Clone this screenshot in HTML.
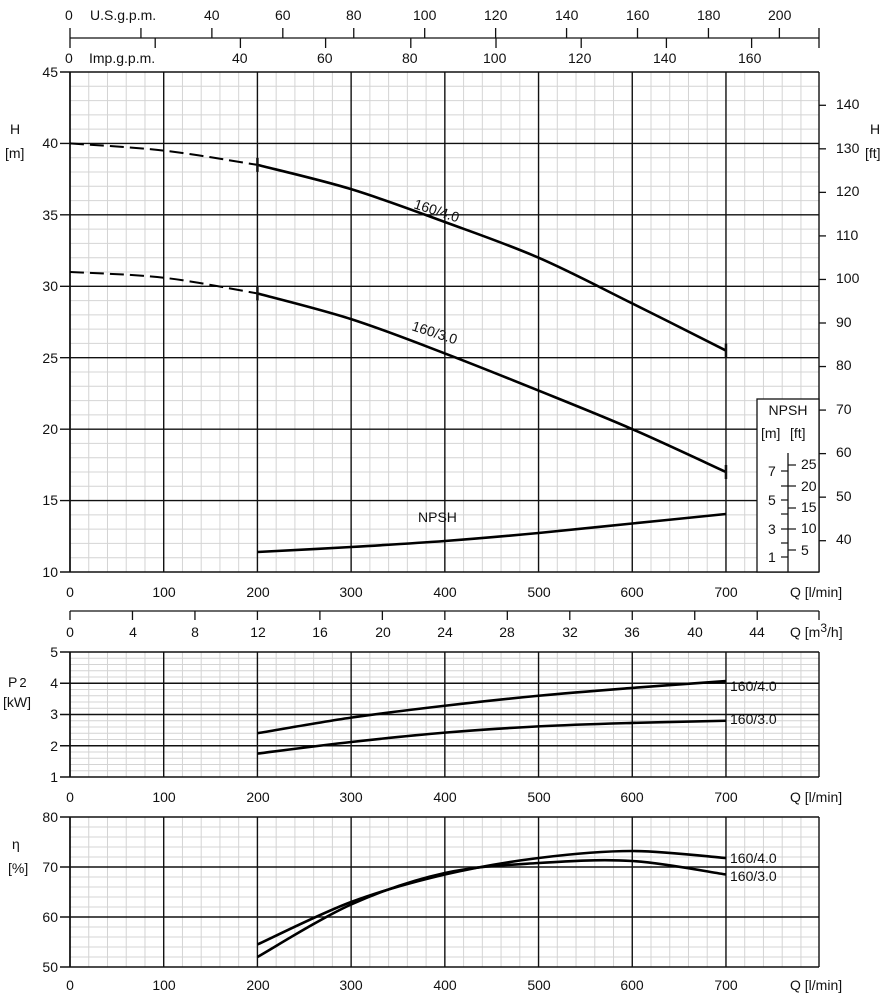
<!DOCTYPE html>
<html><head><meta charset="utf-8"><style>
body{margin:0;background:#fff}
svg{display:block}
text{font-family:"Liberation Sans",sans-serif;font-size:14px;fill:#111}
</style></head><body>
<svg id="s" width="891" height="1000" xmlns="http://www.w3.org/2000/svg">
<g id="g"></g>
<text x="65" y="20">0</text><text x="90" y="20" font-size="12">U.S.g.p.m.</text>
<text x="204" y="20">40</text><text x="275" y="20">60</text><text x="346" y="20">80</text><text x="413" y="20">100</text><text x="484" y="20">120</text><text x="555" y="20">140</text><text x="626" y="20">160</text><text x="697" y="20">180</text><text x="768" y="20">200</text>
<text x="65" y="63">0</text><text x="89" y="63" font-size="12">Imp.g.p.m.</text>
<text x="232" y="63">40</text><text x="317" y="63">60</text><text x="402" y="63">80</text><text x="483" y="63">100</text><text x="568" y="63">120</text><text x="653" y="63">140</text><text x="738" y="63">160</text>
<g text-anchor="end"><text x="58" y="77">45</text><text x="58" y="148">40</text><text x="58" y="220">35</text><text x="58" y="291">30</text><text x="58" y="363">25</text><text x="58" y="434">20</text><text x="58" y="505">15</text><text x="58" y="577">10</text></g>
<text x="10" y="134" font-size="16">H</text><text x="5" y="158">[m]</text>
<text x="870" y="134" font-size="16">H</text><text x="865" y="158">[ft]</text>
<g><text x="836" y="109">140</text><text x="836" y="153">130</text><text x="836" y="196">120</text><text x="836" y="240">110</text><text x="836" y="283">100</text><text x="836" y="327">90</text><text x="836" y="370">80</text><text x="836" y="414">70</text><text x="836" y="457">60</text><text x="836" y="501">50</text><text x="836" y="544">40</text></g>
<g text-anchor="middle"><text x="70" y="597">0</text><text x="164" y="597">100</text><text x="258" y="597">200</text><text x="351" y="597">300</text><text x="445" y="597">400</text><text x="539" y="597">500</text><text x="632" y="597">600</text><text x="726" y="597">700</text></g>
<text x="790" y="597">Q [l/min]</text>
<g text-anchor="middle"><text x="70" y="637">0</text><text x="133" y="637">4</text><text x="195" y="637">8</text><text x="258" y="637">12</text><text x="320" y="637">16</text><text x="383" y="637">20</text><text x="445" y="637">24</text><text x="507" y="637">28</text><text x="570" y="637">32</text><text x="632" y="637">36</text><text x="695" y="637">40</text><text x="757" y="637">44</text></g>
<text x="790" y="637">Q [m<tspan dy="-5" font-size="12">3</tspan><tspan dy="5">/h]</tspan></text>
<text x="788" y="415" text-anchor="middle" font-size="13">NPSH</text>
<text x="761" y="438" font-size="13">[m]</text><text x="790" y="438" font-size="13">[ft]</text>
<g font-size="13"><text x="768" y="476">7</text><text x="768" y="505">5</text><text x="768" y="534">3</text><text x="768" y="562">1</text>
<text x="801" y="469">25</text><text x="801" y="491">20</text><text x="801" y="512">15</text><text x="801" y="533">10</text><text x="801" y="555">5</text></g>
<text x="418" y="522" font-size="15">NPSH</text>
<text x="413" y="208" font-size="17" transform="rotate(18 413 208)">160/4.0</text>
<text x="411" y="330" font-size="17" transform="rotate(18 411 330)">160/3.0</text>
<g text-anchor="end"><text x="58" y="657">5</text><text x="58" y="688">4</text><text x="58" y="719">3</text><text x="58" y="751">2</text><text x="58" y="782">1</text></g>
<text x="8" y="687" font-size="16">P<tspan font-size="13" dx="2">2</tspan></text><text x="3" y="707" font-size="13">[kW]</text>
<g text-anchor="middle"><text x="70" y="802">0</text><text x="164" y="802">100</text><text x="258" y="802">200</text><text x="351" y="802">300</text><text x="445" y="802">400</text><text x="539" y="802">500</text><text x="632" y="802">600</text><text x="726" y="802">700</text></g>
<text x="790" y="802">Q [l/min]</text>
<text x="730" y="691" font-size="16">160/4.0</text><text x="730" y="724" font-size="16">160/3.0</text>
<g text-anchor="end"><text x="58" y="822">80</text><text x="58" y="872">70</text><text x="58" y="922">60</text><text x="58" y="972">50</text></g>
<text x="12" y="849" font-size="16">η</text><text x="8" y="873" font-size="13">[%]</text>
<g text-anchor="middle"><text x="70" y="990">0</text><text x="164" y="990">100</text><text x="258" y="990">200</text><text x="351" y="990">300</text><text x="445" y="990">400</text><text x="539" y="990">500</text><text x="632" y="990">600</text><text x="726" y="990">700</text></g>
<text x="790" y="990">Q [l/min]</text>
<text x="730" y="863" font-size="16">160/4.0</text><text x="730" y="881" font-size="16">160/3.0</text>
</svg>
<script>
var g=document.getElementById('g'),NS='http://www.w3.org/2000/svg';
function L(x1,y1,x2,y2,c,w,d){var e=document.createElementNS(NS,'line');e.setAttribute('x1',x1);e.setAttribute('y1',y1);e.setAttribute('x2',x2);e.setAttribute('y2',y2);e.setAttribute('stroke',c);e.setAttribute('stroke-width',w);if(d)e.setAttribute('stroke-dasharray',d);g.appendChild(e);}
function P(pts,w,d){var e=document.createElementNS(NS,'path');var s='M'+pts[0][0]+','+pts[0][1];for(var i=1;i<pts.length;i++){var p0=pts[i-1],p1=pts[i];var pm=pts[i-2]||p0,pn=pts[i+1]||p1;s+=' C'+(p0[0]+(p1[0]-pm[0])/6)+','+(p0[1]+(p1[1]-pm[1])/6)+' '+(p1[0]-(pn[0]-p0[0])/6)+','+(p1[1]-(pn[1]-p0[1])/6)+' '+p1[0]+','+p1[1];}
e.setAttribute('d',s);e.setAttribute('fill','none');e.setAttribute('stroke','#000');e.setAttribute('stroke-width',w);if(d)e.setAttribute('stroke-dasharray',d);g.appendChild(e);}
function X(q){return 70+q*0.9371;}
var R=819,GR='#d4d4d4',K='#111';
function panel(top,bot,nMinorY,majEvery){
 var h=(bot-top)/nMinorY;
 for(var i=0;i<=nMinorY;i++){var y=top+i*h;if(i%majEvery)L(70,y,R,y,GR,1);}
 for(var q=20;q<=800;q+=20){var x=X(q);if(x>R)break;if(q%100)L(x,top,x,bot,GR,1);}
 for(var i=0;i<=nMinorY;i+=majEvery){var y=top+i*h;L(60,y,R,y,K,1.4);}
 for(var q=0;q<=700;q+=100)L(X(q),top,X(q),bot,K,1.4);
 L(70,top,70,bot,K,1.6);L(R,top,R,bot,K,1.4);
}
L(70,38,R,38,K,1.3);
[0,20,40,60,80,100,120,140,160,180,200].forEach(function(v){L(X(v*3.785),28,X(v*3.785),38,K,1.3)});
[0,20,40,60,80,100,120,140,160].forEach(function(v){L(X(v*4.546),38,X(v*4.546),48,K,1.3)});L(R,28,R,48,K,1.3);
panel(72,572,35,5);
function YH(h){return 72+(45-h)*14.286;}
for(var f=40;f<=140;f+=10){L(R,YH(f/3.281),R+7,YH(f/3.281),K,1.3);}
var bx=document.createElementNS(NS,'rect');bx.setAttribute('x',757);bx.setAttribute('y',399);bx.setAttribute('width',62);bx.setAttribute('height',173);bx.setAttribute('fill','#fff');bx.setAttribute('stroke',K);bx.setAttribute('stroke-width',1.3);g.appendChild(bx);
L(788,453,788,572,K,1.3);
[471,486,500,514,529,543,557].forEach(function(y){L(781,y,788,y,K,1.2)});
[465,486,508,529,550].forEach(function(y){L(788,y,796,y,K,1.2)});
L(70,611,R,611,K,1.3);
for(var m=0;m<=44;m+=4)L(X(m*16.667),611,X(m*16.667),620,K,1.3);L(R,611,R,620,K,1.3);
P([[0,40],[100,39.5],[200,38.5]].map(function(p){return[X(p[0]),YH(p[1])]}),2,'14,6');
P([[200,38.5],[300,36.8],[400,34.5],[500,32],[600,28.8],[700,25.5]].map(function(p){return[X(p[0]),YH(p[1])]}),2.6);
P([[0,31],[100,30.6],[200,29.5]].map(function(p){return[X(p[0]),YH(p[1])]}),2,'14,6');
P([[200,29.5],[300,27.7],[400,25.3],[500,22.7],[600,20],[700,17]].map(function(p){return[X(p[0]),YH(p[1])]}),2.6);
[[200,38.5],[700,25.5],[200,29.5],[700,17]].forEach(function(p){L(X(p[0]),YH(p[1])-7,X(p[0]),YH(p[1])+7,K,2.5)});
P([[200,552],[300,547],[400,541],[500,533],[600,523.5],[700,514]].map(function(p){return[X(p[0]),p[1]]}),2.6);
panel(652,777,20,5);
function YP(p){return 652+(5-p)*31.25;}
P([[200,2.4],[300,2.9],[400,3.28],[500,3.6],[600,3.85],[700,4.07]].map(function(p){return[X(p[0]),YP(p[1])]}),2.6);
P([[200,1.75],[300,2.12],[400,2.42],[500,2.62],[600,2.73],[700,2.8]].map(function(p){return[X(p[0]),YP(p[1])]}),2.6);
panel(817,967,15,5);
function YE(e){return 817+(80-e)*5;}
P([[200,54.5],[300,63],[400,68.5],[500,71.8],[600,73.2],[700,71.8]].map(function(p){return[X(p[0]),YE(p[1])]}),2.6);
P([[200,52],[300,62.5],[400,68.8],[500,70.8],[600,71.2],[700,68.5]].map(function(p){return[X(p[0]),YE(p[1])]}),2.6);
</script>
</body></html>
